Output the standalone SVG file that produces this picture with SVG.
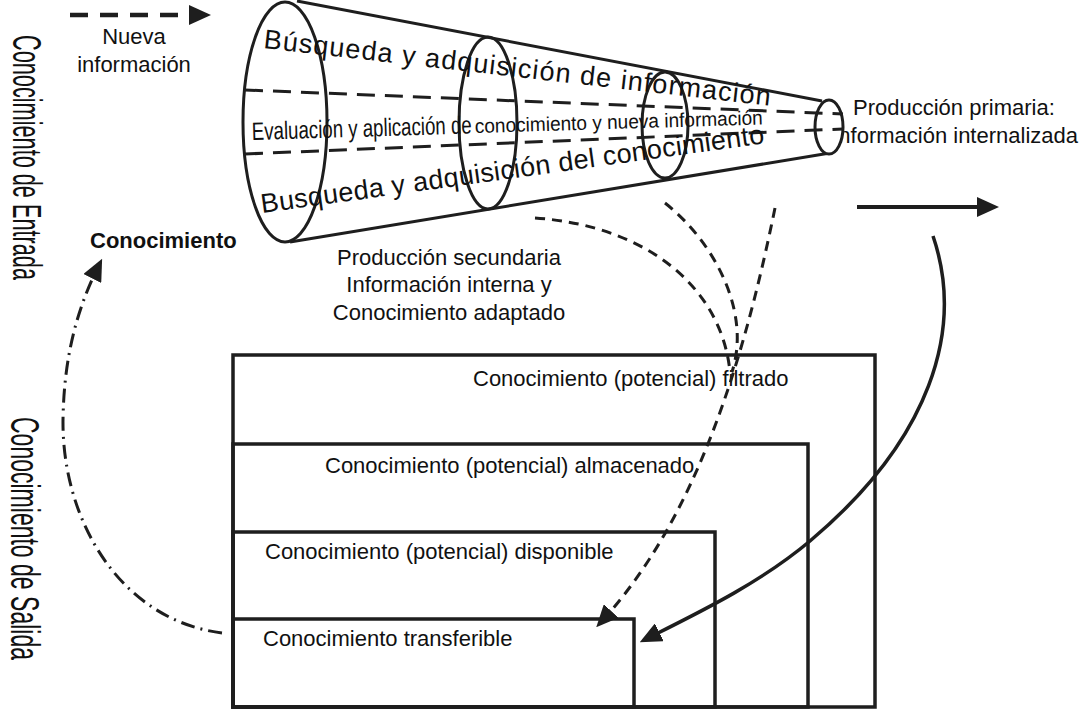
<svg xmlns="http://www.w3.org/2000/svg" width="1086" height="724" viewBox="0 0 1086 724">
<defs>
<style>
.t{font-family:"Liberation Sans",Arial,sans-serif;fill:#111;font-size:22px}
.b{font-weight:bold}
.v{font-size:23px}
.ln{fill:none;stroke:#1e1e1e;stroke-width:3}
.box{fill:none;stroke:#1e1e1e;stroke-width:3.5}
.dsh{stroke-dasharray:18 10}
.cd{fill:none;stroke:#1e1e1e;stroke-width:3;stroke-dasharray:10 7}
.dd{fill:none;stroke:#1e1e1e;stroke-width:3;stroke-dasharray:14 6 2 6}
</style>
<marker id="ah" viewBox="0 0 22 20" markerWidth="22" markerHeight="20" refX="15" refY="10" orient="auto" markerUnits="userSpaceOnUse">
<path d="M0,0 L22,10 L0,20 z" fill="#1e1e1e"/>
</marker>
</defs>
<rect width="1086" height="724" fill="#fff"/>

<g id="vert-labels">
<text class="t v" transform="translate(13,35) rotate(90) scale(1,1.74)" textLength="245" lengthAdjust="spacingAndGlyphs">Conocimiento de Entrada</text>
<text class="t v" transform="translate(11,417) rotate(90) scale(1,1.8)" textLength="243" lengthAdjust="spacingAndGlyphs">Conocimiento de Salida</text>
</g>

<g id="nueva-info">
<text class="t" x="134" y="44" text-anchor="middle">Nueva</text>
<text class="t" x="134" y="72" text-anchor="middle">información</text>
</g>

<g id="conocimiento-label">
<text class="t b" x="90" y="248">Conocimiento</text>
</g>

<g id="produccion-primaria">
<text class="t" x="853" y="115">Producción primaria:</text>
<text class="t" x="1078" y="143" text-anchor="end">Información internalizada</text>
</g>

<g id="produccion-secundaria">
<text class="t" x="449" y="265" text-anchor="middle">Producción secundaria</text>
<text class="t" x="449" y="292" text-anchor="middle">Información interna y</text>
<text class="t" x="449" y="320" text-anchor="middle">Conocimiento adaptado</text>
</g>

<g id="cone">
<line class="ln" x1="297" y1="1" x2="822" y2="101"/>
<line class="ln" x1="290" y1="242" x2="830" y2="153"/>
<ellipse class="ln" cx="285" cy="122" rx="42" ry="120"/>
<ellipse class="ln" cx="488" cy="123" rx="29" ry="86"/>
<ellipse class="ln" cx="665" cy="125" rx="23" ry="53"/>
<ellipse cx="829" cy="127" rx="14" ry="27" fill="#fff" stroke="#1e1e1e" stroke-width="3"/>
<line class="ln dsh" x1="245" y1="90" x2="843" y2="114"/>
<line class="ln dsh" x1="245" y1="154" x2="843" y2="129"/>
<text class="t" style="font-size:27px" transform="translate(263,48) rotate(6.5)" textLength="510" lengthAdjust="spacing">Búsqueda y adquisición de información</text>
<text class="t" style="font-size:25px" transform="translate(252,140) rotate(-1.7)" textLength="220" lengthAdjust="spacingAndGlyphs">Evaluación y aplicación de</text>
<text class="t" style="font-size:20px" transform="translate(475,133) rotate(-1.7)" textLength="288" lengthAdjust="spacingAndGlyphs">conocimiento y nueva información</text>
<text class="t" style="font-size:27px" transform="translate(262,213) rotate(-7.9)" textLength="508" lengthAdjust="spacing">Busqueda y adquisición del conocimiento</text>
</g>

<g id="box-filtrado">
<rect class="box" x="233" y="355" width="642" height="352"/>
<text class="t" x="473" y="386">Conocimiento (potencial) filtrado</text>
</g>
<g id="box-almacenado">
<rect class="box" x="233" y="444" width="575" height="263"/>
<text class="t" x="325" y="473">Conocimiento (potencial) almacenado</text>
</g>
<g id="box-disponible">
<rect class="box" x="233" y="532" width="482" height="175"/>
<text class="t" x="265" y="559">Conocimiento (potencial) disponible</text>
</g>
<g id="box-transferible">
<rect class="box" x="233" y="619" width="401" height="88"/>
<text class="t" x="263" y="646">Conocimiento transferible</text>
</g>

<g id="connectors">
<path d="M70,15 L204,15" fill="none" stroke="#1e1e1e" stroke-width="4.5" stroke-dasharray="18 12" marker-end="url(#ah)"/>
<path d="M857,207 L992,207" fill="none" stroke="#1e1e1e" stroke-width="4" marker-end="url(#ah)"/>
<path d="M933,236 C965,330 930,440 810,541 C760,583 700,612 646,639" fill="none" stroke="#1e1e1e" stroke-width="3.5" marker-end="url(#ah)"/>
<path class="cd" d="M535,218 C650,226 722,290 730,372"/>
<path class="cd" d="M665,203 C712,240 752,310 732,372"/>
<path class="cd" d="M775,208 C745,355 698,517 601,622" marker-end="url(#ah)"/>
<path class="dd" d="M222,633 C120,620 62,520 63,420 C64,350 80,303 99,265" marker-end="url(#ah)"/>
</g>
</svg>
